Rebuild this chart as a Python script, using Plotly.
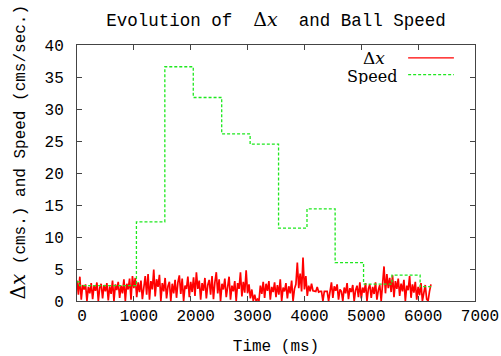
import plotly.graph_objects as go

# ---- data ----
sample_ms = 25  # sampling interval of the delta-x trace
dx_values = [
    # 0 - 1000 ms
    3.2, 1.0, 3.8, 0.2, 2.5, 1.8, 2.6, 0.0, 2.2, 1.2, 2.8, 0.3, 2.4, 1.6, 2.9, 0.0, 2.1, 2.7, 0.4, 2.5,
    1.5, 2.8, 0.1, 2.3, 1.1, 3.2, 0.0, 2.6, 1.7, 3.0, 0.5, 2.4, 1.2, 3.4, 0.0, 2.7, 1.8, 3.5, 0.2, 3.9,
    # 1000 - 2000 ms
    2.0, 3.6, 0.6, 2.9, 1.4, 3.2, 0.3, 2.6, 3.9, 1.0, 4.2, 0.2, 3.1, 1.8, 4.9, 0.7, 3.4, 2.2, 4.1, 0.0,
    2.8, 1.5, 3.6, 0.4, 2.3, 3.0, 0.0, 2.7, 1.2, 3.3, 0.5, 2.9, 4.0, 1.1, 3.5, 0.0, 2.4, 1.9, 3.8, 0.6,
    # 2000 - 3000 ms
    3.0, 1.4, 3.7, 0.8, 4.5, 1.9, 3.2, 0.2, 2.8, 1.6, 3.6, 0.4, 2.5, 3.3, 1.0, 3.9, 0.3, 2.9, 4.5, 1.2,
    3.4, 0.0, 2.7, 1.8, 3.5, 0.6, 2.6, 3.8, 0.2, 2.4, 1.5, 3.1, 0.0, 2.8, 1.9, 4.5, 0.7, 3.0, 1.3, 4.8,
    # 3000 - 4000 ms
    1.2, 2.6, 0.4, 1.8, 0.0, 1.0, 0.0, 0.3, 0.0, 2.4, 1.1, 3.0, 0.5, 2.7, 1.6, 3.1, 0.2, 2.2, 1.4, 2.9,
    0.6, 2.5, 1.0, 3.4, 0.0, 2.1, 1.5, 2.8, 0.4, 2.3, 1.2, 3.2, 0.0, 1.9, 2.6, 6.0, 2.0, 4.3, 1.5, 6.8,
    # 4000 - 5000 ms
    1.8, 3.9, 0.8, 2.4, 1.5, 2.7, 1.6, 1.5, 1.5, 2.2, 1.4, 1.5, 1.5, 0.0, 1.5, 1.5, 1.5, 0.0, 1.4, 2.9,
    0.5, 2.3, 1.6, 2.6, 0.2, 1.8, 1.5, 0.0, 2.1, 1.2, 2.8, 0.3, 2.0, 1.4, 2.5, 0.0, 1.7, 2.4, 0.6, 2.9,
    # 5000 - 6000 ms
    0.4, 2.1, 1.3, 2.8, 0.0, 1.9, 2.6, 0.5, 2.2, 1.1, 2.9, 0.2, 1.7, 2.5, 0.0, 2.3, 5.4, 1.2, 4.2, 2.0,
    3.6, 1.4, 4.0, 0.6, 3.1, 1.9, 3.5, 0.8, 2.7, 1.5, 3.3, 0.0, 2.4, 1.7, 3.9, 0.5, 2.6, 1.3, 3.0, 0.2,
    # 6000 - 6250 ms
    2.2, 0.9, 2.8, 0.0, 1.6, 2.5, 0.3, 0.0, 1.5, 2.6,
]
dx_time_ms = [i * sample_ms for i in range(len(dx_values))]

speed_time_ms = [0, 45, 1045, 1545, 2045, 2545, 3045, 3545, 4045, 4540, 5040, 5540, 6035, 6240]
speed_values = [3.0, 2.4, 12.35, 36.6, 31.8, 26.1, 24.5, 11.4, 14.4, 6.0, 2.65, 4.05, 2.25, 2.25]

x_ticks = [0, 1000, 2000, 3000, 4000, 5000, 6000, 7000]
y_ticks = [0, 5, 10, 15, 20, 25, 30, 35, 40]

MONO = "Liberation Mono, Courier New, monospace"
SERIF = "DejaVu Serif, Liberation Serif, serif"
RED = "#ff0000"
GREEN = "#1ee81e"

fig = go.Figure()
fig.add_trace(go.Scatter(
    x=dx_time_ms, y=dx_values, mode="lines", name="Δx",
    line=dict(color=RED, width=1.7), showlegend=False,
))
fig.add_trace(go.Scatter(
    x=speed_time_ms, y=speed_values, mode="lines", name="Speed",
    line=dict(color=GREEN, width=1.3, dash="3px,2px", shape="hv"), showlegend=False,
))

# gnuplot-style legend (text right-aligned, sample line to the right)
legend_items = [("Δ<i>x</i>", RED, "solid", 0.950, 0.778, 0.949, 17),
                ("Speed", GREEN, "3px,2px", 0.884, 0.808, 0.879, 16)]
for label, col, dash, ly, tx, ty, fs in legend_items:
    fig.add_annotation(x=tx, y=ty, xref="paper", yref="paper", text=label,
                       showarrow=False, xanchor="right", yanchor="middle", height=16,
                       font=dict(family=SERIF, size=fs, color="black"))
    fig.add_shape(type="line", xref="paper", yref="paper", x0=0.832, x1=0.947, y0=ly, y1=ly,
                  line=dict(color=col, width=1.3, dash=dash))

# y axis title
fig.add_annotation(
    x=0, y=0.58, xref="paper", yref="paper", xshift=-59, textangle=-90,
    text="<span style='font-family:DejaVu Serif;font-size:20px'>Δ<i>x</i></span> (cms.) and Speed (cms/sec.)",
    showarrow=False, xanchor="center", yanchor="middle",
    font=dict(family=MONO, size=16, color="black"),
)

fig.update_layout(
    width=501, height=356,
    margin=dict(l=77, r=26, t=45, b=55, autoexpand=False),
    paper_bgcolor="white", plot_bgcolor="white",
    title=dict(
        text="Evolution of  <span style='font-family:DejaVu Serif;font-size:19px'>Δ<i>x</i></span>  and Ball Speed",
        x=0.551, xanchor="center", y=0.944, yanchor="middle",
        font=dict(family=MONO, size=17.5, color="black"),
    ),
    xaxis=dict(
        range=[0, 7000], tickvals=x_ticks, ticktext=[str(v) for v in x_ticks],
        ticks="inside", ticklen=5, tickcolor="#444", mirror="ticks", automargin=False,
        showline=True, linecolor="#444", linewidth=1, showgrid=False, zeroline=False,
        tickfont=dict(family=MONO, size=16, color="black"), ticklabelshift=5,
        title=dict(text="Time (ms)", font=dict(family=MONO, size=16, color="black"), standoff=17),
    ),
    yaxis=dict(
        range=[0, 40], tickvals=y_ticks, ticktext=[str(v) for v in y_ticks],
        ticks="inside", ticklen=5, tickcolor="#444", mirror="ticks", automargin=False,
        showline=True, linecolor="#444", linewidth=1, showgrid=False, zeroline=False,
        tickfont=dict(family=MONO, size=16, color="black"), ticklabelstandoff=9,
    ),
)

fig.write_html("out.html", post_script="document.body.style.margin='0';",
               config={"displayModeBar": False})
